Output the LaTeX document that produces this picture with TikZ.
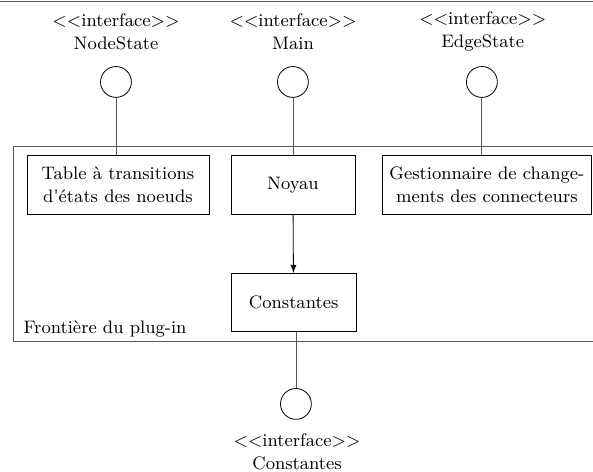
\documentclass[tikz,border=0pt]{standalone}
\usepackage{fontspec}
\setmainfont{Latin Modern Roman}[Ligatures=TeXOff]
\begin{document}
\begin{tikzpicture}[every node/.style={font=\fontsize{9}{11.5}\selectfont},
  comp/.style={draw,align=center,minimum height=1.02cm,inner sep=2pt},
  iface/.style={draw,circle,minimum size=0.54cm,inner sep=0pt},
  ilabel/.style={align=center},
  link/.style={draw=black!65}]
\useasboundingbox (0,0) rectangle (10.38,8.26);
\draw[link] (0,8.24) -- (10.38,8.24);
\draw[link] (10.38,5.705) -- (0.23,5.705) -- (0.23,2.29) -- (10.38,2.29);
\node[anchor=west] (frontiere) at (0.29,2.5) {Frontière du plug-in};
\node[comp,minimum width=3.185cm] (table) at (2.065,5.0225) {Table à transitions\\d'états des noeuds};
\node[comp,minimum width=2.17cm] (noyau) at (5.1275,5.0225) {Noyau};
\node[comp,minimum width=3.675cm] (gest) at (8.5225,5.0225) {Gestionnaire de change-\\ments des connecteurs};
\node[comp,minimum width=2.19cm] (cst) at (5.14,2.966) {Constantes};
\node[iface] (nodestate) at (2.03,6.825) {};
\node[iface] (main) at (5.1275,6.825) {};
\node[iface] (edgestate) at (8.435,6.825) {};
\node[iface] (cstif) at (5.18,1.19) {};
\node[ilabel] (nodestatelbl) at (2.03,7.71) {<<interface>>\\NodeState};
\node[ilabel] (mainlbl) at (5.13,7.71) {<<interface>>\\Main};
\node[ilabel] (edgestatelbl) at (8.45,7.71) {<<interface>>\\EdgeState};
\node[ilabel] (cstiflbl) at (5.2,0.35) {<<interface>>\\Constantes};
\draw[link] (nodestate) -- (nodestate |- table.north);
\draw[link] (main) -- (noyau);
\draw[link] (edgestate) -- (edgestate |- gest.north);
\draw[-latex] (noyau) -- (cst);
\draw[link] (cst.south -| cstif) -- (cstif);
\end{tikzpicture}
\end{document}
